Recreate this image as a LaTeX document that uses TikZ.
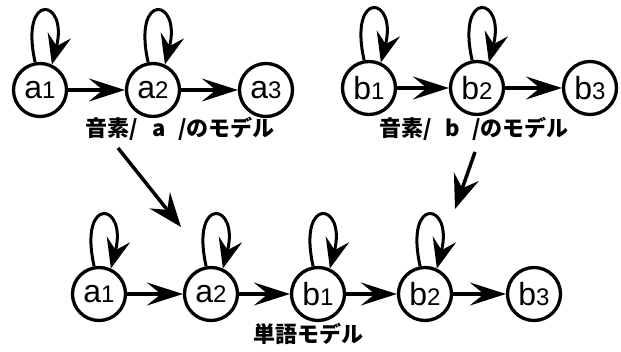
\documentclass[tikz,border=0pt]{standalone}
\usepackage{fontspec}
\setmainfont{Liberation Sans}
\newfontfamily\jpfont{Noto Sans CJK JP}
\usetikzlibrary{arrows.meta}
\tikzset{
  state/.style={draw, circle, line width=3.3pt, minimum size=53pt, inner sep=0pt,
    font=\fontsize{32}{32}\selectfont},
  harrow/.style={line width=3.3pt, -{Stealth[length=36pt,width=23pt,inset=14pt]}},
  darrow/.style={line width=3.5pt, -{Stealth[length=34pt,width=26pt,inset=12pt]}},
  looparrow/.style={line width=3pt, -{Stealth[length=30pt,width=24pt,inset=11pt]}},
  lbl/.style={font=\jpfont\bfseries\fontsize{22}{22}\selectfont, inner sep=0pt}
}
\newcommand\dg[1]{{\fontsize{24}{24}\selectfont #1}}
\newcommand\slboxl[1]{\makebox[19pt][l]{#1}}
\newcommand\slboxr[1]{\makebox[17pt][r]{#1}}
\newcommand\ltbox[1]{\makebox[22pt]{#1}}
\newcommand\selfloop[1]{\draw[looparrow] (#1.100) .. controls +(-16,-72) and +(17,-66) .. (#1.65);}
\begin{document}
\begin{tikzpicture}[x=1pt,y=-1pt]
\useasboundingbox (0,0) rectangle (621,352);
% top a model
\node[state] (ta1) at (40,90) {a\dg{1}};
\node[state] (ta2) at (153,90) {a\dg{2}};
\node[state] (ta3) at (266,90) {a\dg{3}};
\draw[harrow] (ta1) -- (ta2);
\draw[harrow] (ta2) -- (ta3);
\selfloop{ta1}
\selfloop{ta2}
\node[lbl] (la) at (180,129) {音素\slboxl{/}\ltbox{a}\slboxr{/}のモデル};
% top b model
\node[state] (tb1) at (369,88) {b\dg{1}};
\node[state] (tb2) at (477,88) {b\dg{2}};
\node[state] (tb3) at (590,88) {b\dg{3}};
\draw[harrow] (tb1) -- (tb2);
\draw[harrow] (tb2) -- (tb3);
\selfloop{tb1}
\selfloop{tb2}
\node[lbl] (lb) at (474,129) {音素\slboxl{/}\ltbox{b}\slboxr{/}のモデル};
% word model
\node[state] (wa1) at (99,294) {a\dg{1}};
\node[state] (wa2) at (211,294) {a\dg{2}};
\node[state] (wb1) at (318,294) {b\dg{1}};
\node[state] (wb2) at (425,294) {b\dg{2}};
\node[state] (wb3) at (534,294) {b\dg{3}};
\draw[harrow] (wa1) -- (wa2);
\draw[harrow] (wa2) -- (wb1);
\draw[harrow] (wb1) -- (wb2);
\draw[harrow] (wb2) -- (wb3);
\selfloop{wa1}
\selfloop{wa2}
\selfloop{wb1}
\selfloop{wb2}
\node[lbl] (lw) at (308,334) {単語モデル};
% merge arrows
\coordinate (s1) at (118,148);
\coordinate (e1) at (181,227);
\coordinate (s2) at (475,152);
\coordinate (e2) at (455,209);
\draw[darrow] (s1) -- (e1);
\draw[darrow] (s2) -- (e2);
\end{tikzpicture}
\end{document}
